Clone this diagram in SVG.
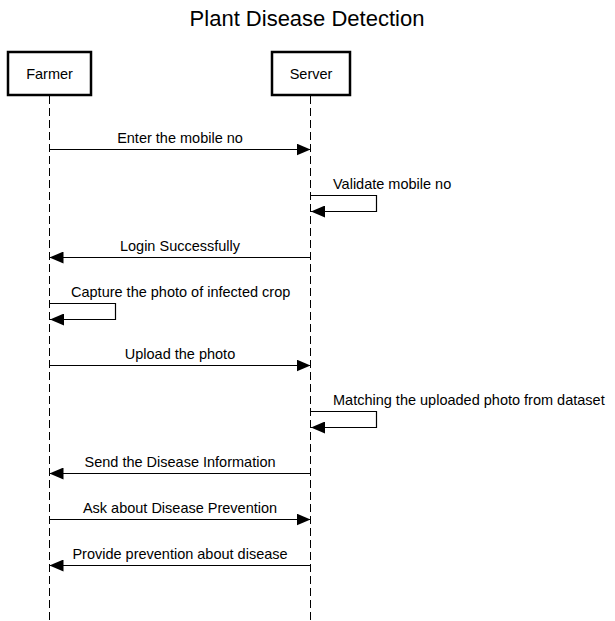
<svg xmlns="http://www.w3.org/2000/svg" width="615" height="621" viewBox="0 0 615 621">
<style>
text{font-family:"Liberation Sans",Arial,Helvetica,sans-serif;fill:#000}
.t{font-size:22px;text-anchor:middle}
.lbl{font-size:14.5px}
.c{text-anchor:middle}
.box{fill:#fff;stroke:#000;stroke-width:2.5}
.life{stroke:#000;stroke-width:1;stroke-dasharray:8 4;fill:none}
.msg{stroke:#000;stroke-width:1.2;fill:none;marker-end:url(#ah)}
</style>
<defs>
<marker id="ah" viewBox="0 0 14 12" refX="14" refY="6" markerWidth="14" markerHeight="12" markerUnits="userSpaceOnUse" orient="auto">
<path d="M0,0 L14,6 L0,12 Z" fill="#000"/>
</marker>
</defs>
<rect width="615" height="621" fill="#fff"/>
<text class="t" x="307" y="26">Plant Disease Detection</text>
<g id="farmer">
<line class="life" x1="49.5" y1="96" x2="49.5" y2="621"/>
<rect class="box" x="8" y="52" width="83" height="43"/>
<text class="lbl c" x="49.5" y="79">Farmer</text>
</g>
<g id="server">
<line class="life" x1="310.5" y1="96" x2="310.5" y2="621"/>
<rect class="box" x="272" y="52" width="78" height="43"/>
<text class="lbl c" x="311" y="79">Server</text>
</g>
<g id="connectors">
<path class="msg" d="M49.5,149.5 H310.5"/>
<path class="msg" d="M310.5,195.5 H376.5 V211.5 H311"/>
<path class="msg" d="M310.5,257.5 H49.5"/>
<path class="msg" d="M49.5,303.5 H115.5 V319.5 H50"/>
<path class="msg" d="M49.5,365.5 H310.5"/>
<path class="msg" d="M310.5,411.5 H376.5 V427.5 H311"/>
<path class="msg" d="M310.5,473.5 H49.5"/>
<path class="msg" d="M49.5,519.5 H310.5"/>
<path class="msg" d="M310.5,565.5 H49.5"/>
</g>
<g id="labels">
<text class="lbl c" x="180" y="143">Enter the mobile no</text>
<text class="lbl" x="333" y="189">Validate mobile no</text>
<text class="lbl c" x="180" y="251">Login Successfully</text>
<text class="lbl" x="71" y="297">Capture the photo of infected crop</text>
<text class="lbl c" x="180" y="359">Upload the photo</text>
<text class="lbl" x="333" y="405">Matching the uploaded photo from dataset</text>
<text class="lbl c" x="180" y="467">Send the Disease Information</text>
<text class="lbl c" x="180" y="513">Ask about Disease Prevention</text>
<text class="lbl c" x="180" y="559">Provide prevention about disease</text>
</g>
</svg>
